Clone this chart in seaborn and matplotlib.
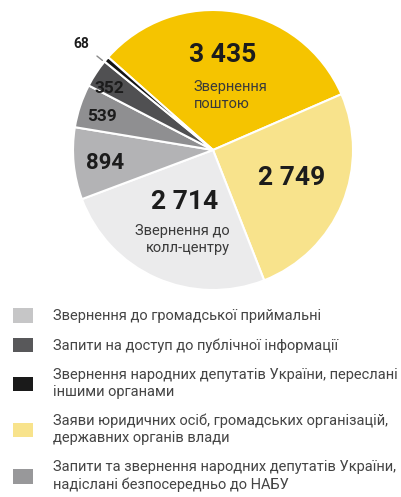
#
# plot.py
#   - Pie chart of incoming requests by channel.
#

import matplotlib
matplotlib.use("Agg")
import seaborn as sns
import matplotlib.pyplot as plt
from matplotlib.patches import Patch

# data
values = [3435, 2749, 2714, 894, 539, 352, 68]
colors = ["#F5C400", "#F8E38C", "#EBEBEC", "#B3B3B5", "#8F8F91", "#505052", "#141414"]
inline_names = ["Звернення\nпоштою", None, "Звернення до\nколл-центру", None, None, None, None]
legend_colors = ["#C6C6C7", "#58585A", "#1A1A1A", "#F8E38C", "#98989A"]
legend_labels = [
    "Звернення до громадської приймальні",
    "Запити на доступ до публічної інформації",
    "Звернення народних депутатів України, переслані\nіншими органами",
    "Заяви юридичних осіб, громадських організацій,\nдержавних органів влади",
    "Запити та звернення народних депутатів України,\nнадіслані безпосередньо до НАБУ",
]


def main():
    sns.set_theme(style="white")
    plt.rcParams["font.family"] = ["Roboto", "DejaVu Sans"]

    W, H = 401, 497
    fig = plt.figure(figsize=(W / 100, H / 100), dpi=100)
    fig.patch.set_facecolor("white")

    # pie centre (213, 150) px, radius 140 px
    ax = fig.add_axes([73 / W, (H - 290) / H, 280 / W, 280 / H])
    wedges, _ = ax.pie(values, colors=colors, startangle=138.5, counterclock=False,
                       radius=1.0, wedgeprops=dict(edgecolor="white", linewidth=1.5))
    ax.set_xlim(-1, 1)
    ax.set_ylim(-1, 1)
    ax.set_aspect("equal")
    ax.axis("off")

    def fmt(v):
        return f"{v:,}".replace(",", " ")

    num_pos = [(0.07, 0.68), (0.56, -0.20), (-0.20, -0.37),
               (-0.77, -0.09), (-0.79, 0.24), (-0.74, 0.44)]
    num_size = [19, 19, 19, 16, 12.5, 12.5]
    for v, (x, y), fs in zip(values[:6], num_pos, num_size):
        ax.text(x, y, fmt(v), ha="center", va="center", fontsize=fs,
                fontweight="bold", color="#1c1c1c")

    ax.text(-0.14, 0.39, inline_names[0], ha="left", va="center", fontsize=10.5,
            color="#3a3a3a", linespacing=1.3)
    ax.text(0.12, -0.64, inline_names[2], ha="right", va="center", fontsize=10.5,
            color="#3a3a3a", linespacing=1.3)

    ax.annotate(fmt(values[6]), xy=(-0.79, 0.64), xytext=(-0.94, 0.76),
                ha="center", va="center", fontsize=10, fontweight="bold",
                color="#1c1c1c", annotation_clip=False,
                arrowprops=dict(arrowstyle="-", color="#8a8a8a", lw=1,
                                shrinkA=4, shrinkB=0))

    handles = [Patch(facecolor=c, edgecolor="none") for c in legend_colors]
    leg = fig.legend(handles, legend_labels, loc="upper left",
                     bbox_to_anchor=(13 / W, (H - 308) / H), frameon=False,
                     fontsize=10.5, labelcolor="#444444", handlelength=1.37,
                     handleheight=1.16, handletextpad=1.37, labelspacing=1.0,
                     borderaxespad=0, borderpad=0)
    for t in leg.get_texts():
        t.set_linespacing(1.3)

    fig.savefig("out.png", dpi=100)


if __name__ == '__main__':
    main()
